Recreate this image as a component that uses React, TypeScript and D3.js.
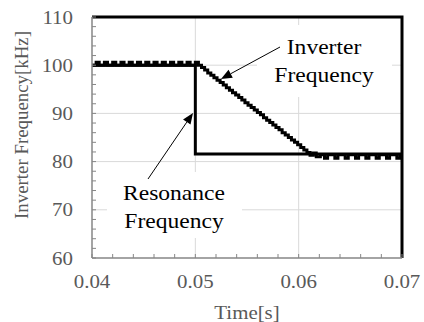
import * as d3 from "d3";

// chart data
const xTicks = [0.04, 0.05, 0.06, 0.07];
const yTicks = [60, 70, 80, 90, 100, 110];

const resTime = [0.04, 0.05, 0.05, 0.07];
const resValue = [100, 100, 81.6, 81.6];

// inverter frequency: step values, each held until the next time
const invTime = [
  0.04, 0.0404, 0.0407, 0.0412, 0.0415, 0.042, 0.0423, 0.0428, 0.0431, 0.0436,
  0.0439, 0.0444, 0.0447, 0.0452, 0.0455, 0.046, 0.0463, 0.0468, 0.0471, 0.0476,
  0.0479, 0.0484, 0.0487, 0.0492, 0.0495, 0.05,
  0.0503, 0.0506, 0.0509, 0.0512, 0.0515, 0.0518, 0.0521, 0.0524, 0.0527, 0.053,
  0.0533, 0.0536, 0.0539, 0.0542, 0.0545, 0.0548, 0.0551, 0.0554, 0.0557, 0.056,
  0.0563, 0.0566, 0.0569, 0.0572, 0.0575, 0.0578, 0.0581, 0.0584, 0.0587, 0.059,
  0.0593, 0.0596, 0.0599, 0.0602, 0.0605, 0.0608,
  0.0611, 0.0614, 0.0617, 0.0621,
  0.0625, 0.0628, 0.0635, 0.0638, 0.0645, 0.0648, 0.0655, 0.0658, 0.0665, 0.0668,
  0.0675, 0.0678, 0.0685, 0.0688, 0.0695, 0.0698, 0.07,
];
const invValue = [
  100.0, 100.6, 100.0, 100.6, 100.0, 100.6, 100.0, 100.6, 100.0, 100.6,
  100.0, 100.6, 100.0, 100.6, 100.0, 100.6, 100.0, 100.6, 100.0, 100.6,
  100.0, 100.6, 100.0, 100.6, 100.0, 100.6,
  100.0, 99.5, 99.0, 98.4, 97.9, 97.4, 96.9, 96.4, 95.9, 95.3,
  94.8, 94.3, 93.8, 93.3, 92.8, 92.2, 91.7, 91.2, 90.7, 90.2,
  89.7, 89.1, 88.6, 88.1, 87.6, 87.1, 86.6, 86.0, 85.5, 85.0,
  84.5, 84.0, 83.5, 82.9, 82.4, 81.9,
  81.3, 81.8, 81.0, 81.4,
  80.7, 81.4, 80.7, 81.4, 80.7, 81.4, 80.7, 81.4, 80.7, 81.4,
  80.7, 81.4, 80.7, 81.4, 80.7, 81.4, 81.4,
];

const WIDTH = 424;
const HEIGHT = 322;
const FONT = "'Liberation Serif', 'Times New Roman', serif";
const GREY = "#595959";

const x = d3.scaleLinear().domain([0.04, 0.07]).range([92, 402]);
const y = d3.scaleLinear().domain([60, 110]).range([258, 17]);

type Pt = [number, number];

const resLine = d3
  .line<Pt>()
  .x((d) => x(d[0]))
  .y((d) => y(d[1]));

const invLine = d3
  .line<Pt>()
  .x((d) => x(d[0]))
  .y((d) => y(d[1]))
  .curve(d3.curveStepAfter);

const Label = ({
  tx,
  ty,
  anchor = "middle",
  size,
  fill = "#000",
  rotate = 0,
  stretch = 1.07,
  children,
}: {
  tx: number;
  ty: number;
  anchor?: string;
  size: number;
  fill?: string;
  rotate?: number;
  stretch?: number;
  children: string;
}) => (
  <text
    transform={`translate(${tx},${ty}) rotate(${rotate}) scale(${stretch},1)`}
    textAnchor={anchor}
    fontSize={size}
    fill={fill}
  >
    {children}
  </text>
);

const Arrow = ({ from, to }: { from: Pt; to: Pt }) => {
  const ang = Math.atan2(to[1] - from[1], to[0] - from[0]);
  const len = 11;
  const half = 4.5;
  const bx = to[0] - len * Math.cos(ang);
  const by = to[1] - len * Math.sin(ang);
  const px = -Math.sin(ang) * half;
  const py = Math.cos(ang) * half;
  return (
    <g>
      <line x1={from[0]} y1={from[1]} x2={bx} y2={by} stroke="#000" strokeWidth={1} />
      <polygon
        points={`${to[0]},${to[1]} ${bx + px},${by + py} ${bx - px},${by - py}`}
        fill="#000"
      />
    </g>
  );
};

export default function App() {
  const [x0, x1] = x.range();
  const [y0, y1] = y.range();
  const resPts: Pt[] = resTime.map((t, i) => [t, resValue[i]]);
  const invPts: Pt[] = invTime.map((t, i) => [t, invValue[i]]);
  const yMinor = d3.range(60, 110.01, 2);
  const xMinor = d3.range(0.04, 0.07001, 0.002);

  return (
    <svg
      width={WIDTH}
      height={HEIGHT}
      style={{ position: "absolute", left: 0, top: 0, background: "#fff" }}
      fontFamily={FONT}
    >
      {/* gridlines */}
      <g stroke="#d9d9d9" strokeWidth={1}>
        {xTicks.slice(1, -1).map((t) => (
          <line key={t} x1={x(t)} x2={x(t)} y1={y1} y2={y0} />
        ))}
        {yTicks.slice(1, -1).map((v) => (
          <line key={v} x1={x0} x2={x1} y1={y(v)} y2={y(v)} />
        ))}
      </g>

      {/* label backgrounds hide the grid */}
      <rect x={257} y={25} width={135} height={72} fill="#fff" />
      <rect x={107} y={172} width={135} height={66} fill="#fff" />

      {/* series */}
      <path d={resLine(resPts) || ""} fill="none" stroke="#000" strokeWidth={3} />
      <path
        d={invLine(invPts) || ""}
        fill="none"
        stroke="#000"
        strokeWidth={3}
        strokeLinejoin="miter"
      />

      {/* plot border: black top/right, grey axes left/bottom */}
      <polyline
        points={`${x0},${y1} ${x1},${y1} ${x1},${y0}`}
        fill="none"
        stroke="#000"
        strokeWidth={3}
      />
      <g stroke="#868686" strokeWidth={1.5}>
        <line x1={x0} x2={x0} y1={y1} y2={y0} />
        <line x1={x0} x2={x1} y1={y0} y2={y0} />
        {yMinor.map((v) => (
          <line key={v} x1={x0} x2={x0 + 4} y1={y(v)} y2={y(v)} strokeWidth={1} />
        ))}
        {xMinor.map((t) => (
          <line key={t} x1={x(t)} x2={x(t)} y1={y0} y2={y0 - 4} strokeWidth={1} />
        ))}
      </g>

      {/* tick labels */}
      {yTicks.map((v) => (
        <Label key={v} tx={73} ty={y(v) + 6.5} anchor="end" size={19} fill={GREY} stretch={1.1}>
          {String(v)}
        </Label>
      ))}
      {xTicks.map((t) => (
        <Label key={t} tx={x(t)} ty={288} size={19} fill={GREY} stretch={1.1}>
          {t.toFixed(2)}
        </Label>
      ))}

      {/* axis titles */}
      <Label tx={247} ty={319} size={19} fill={GREY} stretch={1.1}>
        Time[s]
      </Label>
      <Label tx={28} ty={125} size={18.5} fill={GREY} rotate={-90} stretch={1.02}>
        Inverter Frequency[kHz]
      </Label>

      {/* annotations */}
      <Arrow from={[280, 47]} to={[221, 79]} />
      <Arrow from={[148, 179]} to={[193, 113]} />
      <Label tx={324} ty={54} size={22}>
        Inverter
      </Label>
      <Label tx={324} ty={82} size={22}>
        Frequency
      </Label>
      <Label tx={174} ty={200} size={22}>
        Resonance
      </Label>
      <Label tx={174} ty={228} size={22}>
        Frequency
      </Label>
    </svg>
  );
}
